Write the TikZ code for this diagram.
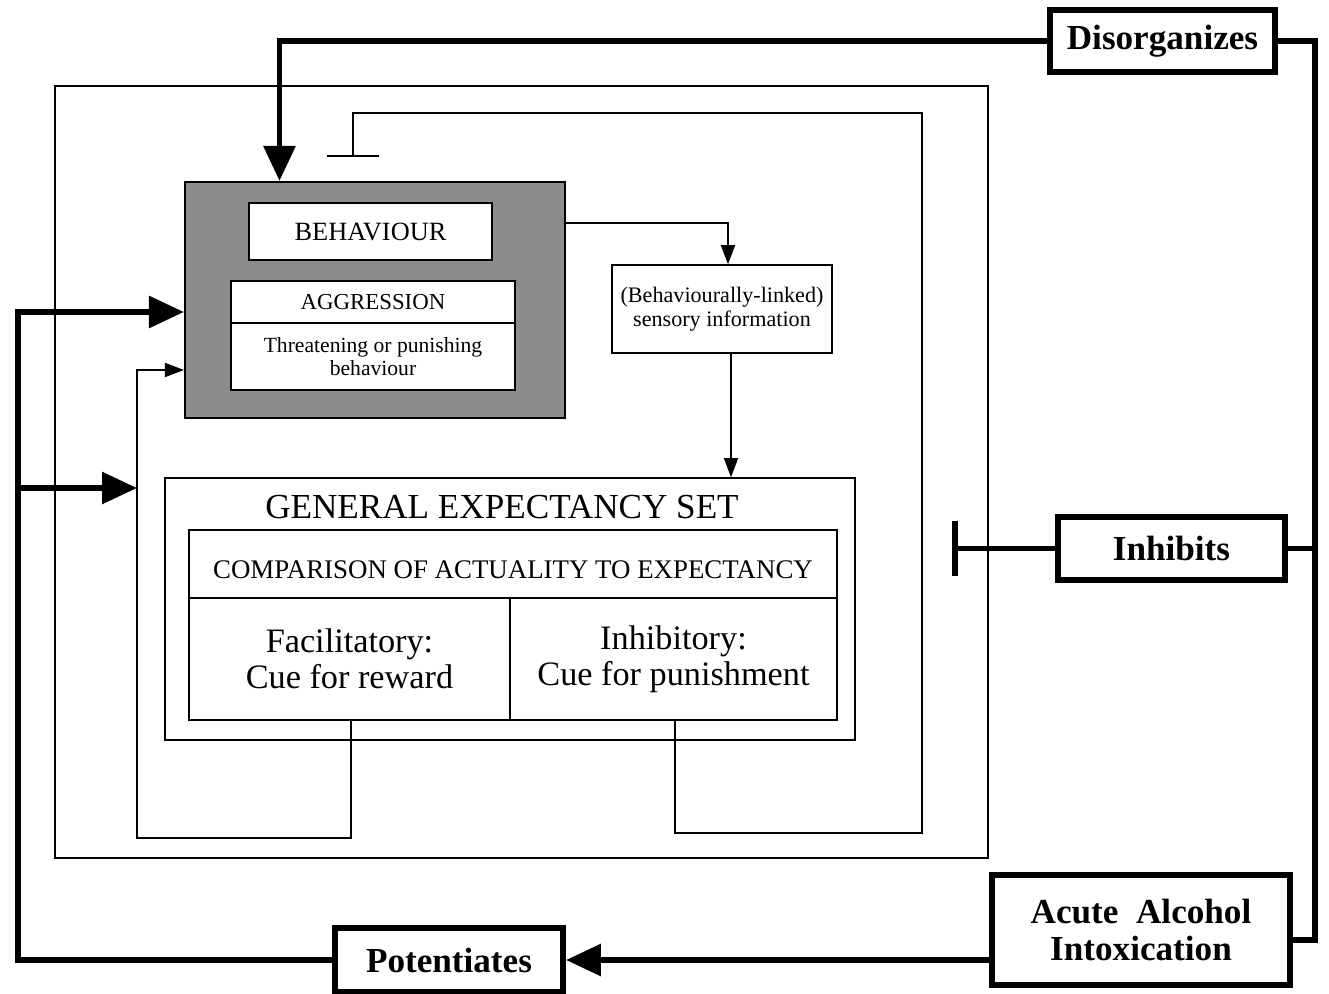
\documentclass[tikz,border=0pt]{standalone}
\usepackage{fontspec}
\setmainfont{Liberation Serif}
\usetikzlibrary{arrows.meta,calc}

\begin{document}
\begin{tikzpicture}[
 x=0.02cm,y=-0.02cm,
 thn/.style={line width=0.9pt},
 thk/.style={line width=3.4pt},
 box/.style={draw,thn,fill=white,rectangle,inner sep=0pt,align=center},
 bigbox/.style={draw,thk,fill=white,rectangle,inner sep=0pt,align=center,
   font=\fontsize{20}{21.5}\selectfont\bfseries},
 bigarrow/.style={thk,-{Triangle[length=0.7cm,width=0.62cm]}},
 smallarrow/.style={thn,-{Triangle[length=0.38cm,width=0.28cm]}},
 ]
 \useasboundingbox (0,0) rectangle (1329,994);

 % frame round the whole model
 \draw[thn] (55,86) rectangle (988,858);

 \node[draw,line width=1.2pt,fill=black!45,minimum width=7.6cm,minimum height=4.72cm] (shade) at (375,300) {};
 \node[box,minimum width=4.86cm,minimum height=1.14cm,font=\fontsize{15}{16}\selectfont] (behav) at (370.5,231.5) {BEHAVIOUR};
 \node[box,minimum width=5.68cm,minimum height=0.84cm,font=\fontsize{13}{14}\selectfont] (aggrtop) at (373,302) {AGGRESSION};
 \node[box,minimum width=5.68cm,minimum height=1.34cm,font=\fontsize{12.3}{13}\selectfont] (aggrbot) at (373,356.5) {Threatening or punishing\\behaviour};

 \node[box,minimum width=4.4cm,minimum height=1.76cm,font=\fontsize{12.6}{13.6}\selectfont] (sensory) at (722,309) {(Behaviourally-linked)\\sensory information};

 \node[box,minimum width=13.8cm,minimum height=5.24cm] (ges) at (510,609) {};
 \node[font=\fontsize{20}{21}\selectfont] (gestitle) at (502,507) {GENERAL EXPECTANCY SET};
 \node[box,minimum width=12.96cm,minimum height=1.36cm,font=\fontsize{15.3}{16}\selectfont,text height=0.6cm] (comp) at (513,564) {COMPARISON OF ACTUALITY TO EXPECTANCY};
 \node[box,minimum width=6.42cm,minimum height=2.44cm,font=\fontsize{19.5}{20.5}\selectfont] (facil) at (349.5,659) {Facilitatory:\\Cue for reward};
 \node[box,minimum width=6.54cm,minimum height=2.44cm,font=\fontsize{19.5}{20.5}\selectfont] (inhib) at (673.5,659) {Inhibitory:\\Cue for punishment};

 \node[bigbox,minimum width=4.5cm,minimum height=1.24cm] (disorg) at (1162.5,41) {Disorganizes};
 \node[bigbox,minimum width=4.54cm,minimum height=1.26cm] (inhibits) at (1171.5,548.5) {Inhibits};
 \node[bigbox,minimum width=5.96cm,minimum height=2.2cm] (alcohol) at (1141,930) {Acute\ \ Alcohol\\Intoxication};
 \node[bigbox,minimum width=4.56cm,minimum height=1.28cm] (poten) at (449,960) {Potentiates};

 \coordinate (rbus) at (1315,0);
 \coordinate (lbus) at (18,0);
 \coordinate (tbar) at (952,0);
 \coordinate (fbl) at (137,838);
 \coordinate (ilb) at (922,833);
 \coordinate (ilt) at (353,113);
 \coordinate (tee) at (353,157);
 \coordinate (brk) at (137,488);
 \coordinate (alcin) at ([yshift=-0.2cm]alcohol.east);
 \coordinate (shin1) at ([yshift=-0.24cm]shade.west);
 \coordinate (shin2) at ([yshift=-1.4cm]shade.west);
 \coordinate (shout) at ([yshift=1.54cm]shade.east);

 % inner loops
 \draw[smallarrow] (shout) -| ([xshift=0.12cm]sensory.north);
 \draw[smallarrow] ([xshift=0.18cm]sensory.south) -- ([xshift=0.18cm]sensory.south |- ges.north);
 \draw[smallarrow] ([xshift=0.03cm]facil.south) |- (fbl) |- (shin2);
 \draw[thn,-{Bar[width=1.04cm]}] ([xshift=0.03cm]inhib.south) |- (ilb) |- (ilt) -- (tee);

 % alcohol
 \draw[thk] (disorg.east) -| (alcin -| rbus) -- (alcin);
 \draw[thk] (inhibits.east) -- (inhibits.east -| rbus);
 \draw[bigarrow] (disorg.west) -| ($(shade.north west)!.25!(shade.north east)$);
 \draw[thk,-{Bar[width=1.1cm]}] (inhibits.west) -- (inhibits.west -| tbar);
 \draw[bigarrow] (alcohol.west |- poten.east) -- (poten.east);
 \draw[bigarrow] (poten.west) -| (lbus |- shin1) -- (shin1);
 \draw[bigarrow] (brk -| lbus) -- (brk);
\end{tikzpicture}
\end{document}
